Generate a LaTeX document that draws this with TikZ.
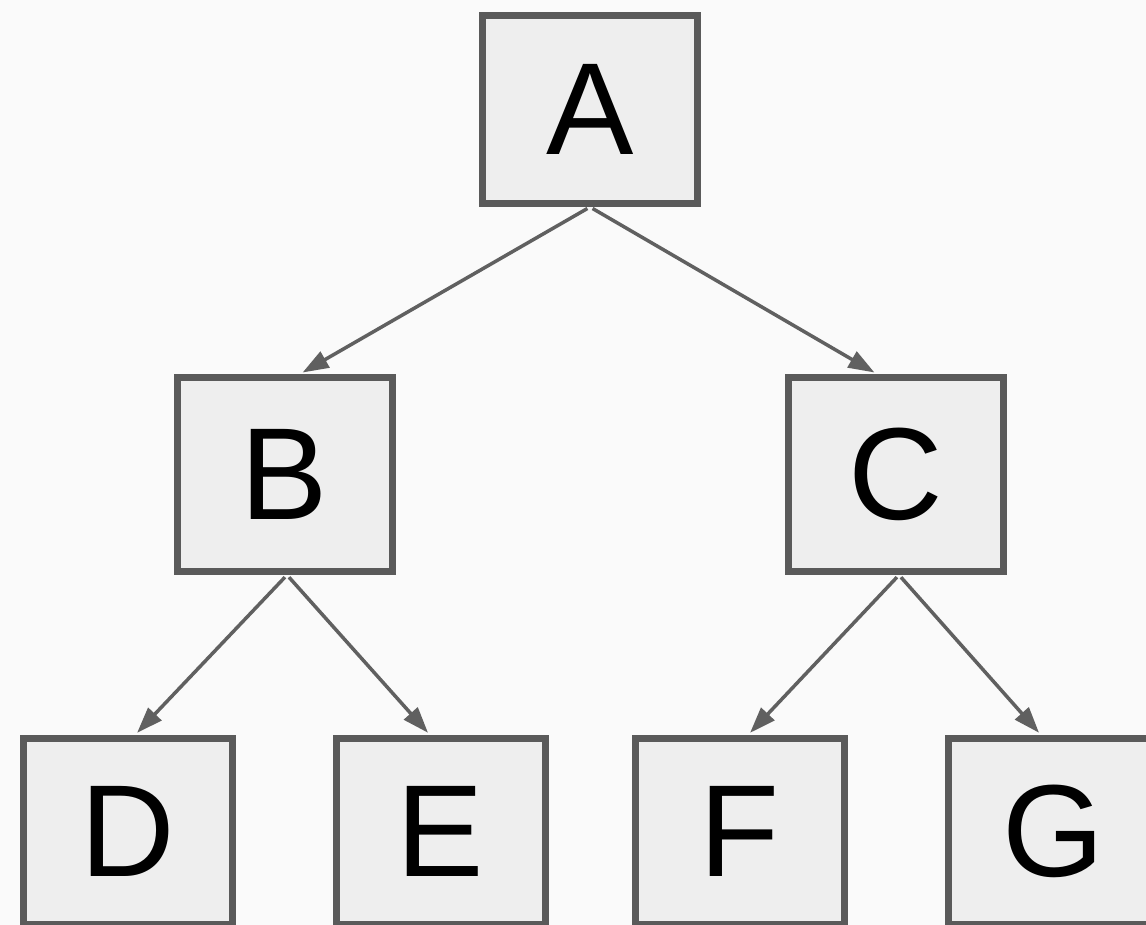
\documentclass[tikz,border=0pt]{standalone}
\usepackage{fontspec}
\setmainfont{Liberation Sans}
\usetikzlibrary{arrows.meta}
\definecolor{bg}{HTML}{FAFAFA}
\definecolor{boxfill}{HTML}{EEEEEE}
\definecolor{boxline}{HTML}{5A5A5A}
\definecolor{edgecol}{HTML}{606060}
\begin{document}
\begin{tikzpicture}[x=1pt,y=-1pt,
  treebox/.style={draw=boxline, fill=boxfill, line width=7pt, inner sep=0pt,
    font=\fontsize{131}{131}\selectfont},
  topbox/.style={treebox, minimum width=215pt, minimum height=188pt},
  midbox/.style={treebox, minimum width=215pt, minimum height=194pt},
  leafbox/.style={treebox, minimum width=209pt, minimum height=186pt},
  edgearrow/.style={draw=edgecol, line width=3.5pt,
    -{Triangle[length=26pt,width=18pt]}, shorten >=3pt, shorten <=3pt}]
\fill[bg] (0,0) rectangle (1146,925);
\useasboundingbox (0,0) rectangle (1146,925);
\node[topbox] (A) at (590,109.5) {A};
\node[midbox] (B) at (284.5,474.5) {B};
\node[midbox] (C) at (896,474.5) {C};
\node[leafbox] (D) at (128,831.5) {D};
\node[leafbox] (E) at (440.5,831.5) {E};
\node[leafbox] (F) at (739.5,831.5) {F};
\node[leafbox] (G) at (1053,831.5) {G};
\draw[edgearrow] (A.south) -- ([xshift=15.5pt]B.north);
\draw[edgearrow] (A.south) -- ([xshift=-19pt]C.north);
\draw[edgearrow] ([xshift=2.5pt]B.south) -- ([xshift=7pt]D.north);
\draw[edgearrow] ([xshift=2.5pt]B.south) -- ([xshift=-10.5pt]E.north);
\draw[edgearrow] ([xshift=3pt]C.south) -- ([xshift=8.5pt]F.north);
\draw[edgearrow] ([xshift=3pt]C.south) -- ([xshift=-12pt]G.north);
\end{tikzpicture}
\end{document}
